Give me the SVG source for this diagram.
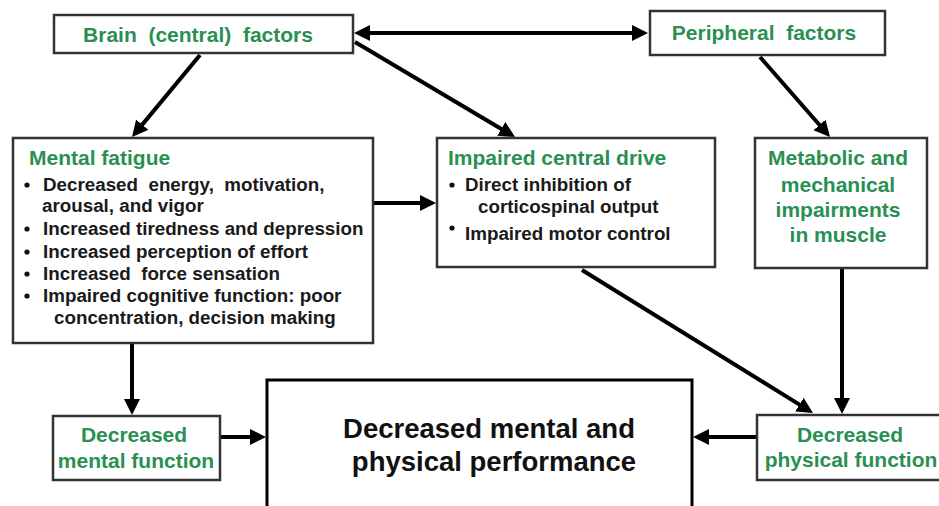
<svg xmlns="http://www.w3.org/2000/svg" width="939" height="506" viewBox="0 0 939 506">
<defs>
<marker id="ah" markerUnits="userSpaceOnUse" markerWidth="17" markerHeight="17" refX="12" refY="8" orient="auto-start-reverse" viewBox="0 0 17 17">
<path d="M0,0 L16,8 L0,16 z" fill="#000"/>
</marker>
<style>
.box{fill:#fff;stroke:#333;stroke-width:2.5}
.big{fill:#fff;stroke:#000;stroke-width:3}
.t{font-family:"Liberation Sans",Arial,sans-serif;font-weight:bold;font-size:21px;fill:#2a8f52;white-space:pre}
.b{font-family:"Liberation Sans",Arial,sans-serif;font-weight:bold;font-size:18.8px;fill:#1a1a1a;white-space:pre}
.h{font-family:"Liberation Sans",Arial,sans-serif;font-weight:bold;font-size:27.5px;fill:#111}
.c{fill:none;stroke:#000;stroke-width:4;marker-end:url(#ah)}
</style>
</defs>
<rect width="939" height="506" fill="#fff"/>
<g id="connectors">
<line class="c" x1="358" y1="33" x2="644" y2="33" style="marker-start:url(#ah)"/>
<line class="c" x1="200" y1="55" x2="134.6" y2="133.9"/>
<line class="c" x1="355" y1="42" x2="511.6" y2="135"/>
<line class="c" x1="760" y1="57" x2="827.4" y2="134"/>
<line class="c" x1="373" y1="203" x2="432" y2="203"/>
<line class="c" x1="582" y1="270" x2="809.6" y2="410.9"/>
<line class="c" x1="842" y1="268" x2="842" y2="410"/>
<line class="c" x1="132" y1="343" x2="132" y2="411"/>
<line class="c" x1="220" y1="437" x2="262" y2="437"/>
<line class="c" x1="757" y1="437" x2="697" y2="437"/>
</g>
<g id="brain">
<rect class="box" x="54" y="15" width="299" height="38"/>
<text class="t" x="198" y="42" text-anchor="middle">Brain  (central)  factors</text>
</g>
<g id="peripheral">
<rect class="box" x="650" y="11" width="235" height="44"/>
<text class="t" x="764" y="40" text-anchor="middle">Peripheral  factors</text>
</g>
<g id="mental-fatigue">
<rect class="box" x="13" y="138" width="360" height="205"/>
<text class="t" x="29" y="165">Mental fatigue</text>
<circle cx="27" cy="185" r="2.6" fill="#111"/>
<text class="b" x="43" y="191">Decreased  energy,  motivation,</text>
<text class="b" x="42" y="212">arousal, and vigor</text>
<circle cx="27" cy="229" r="2.6" fill="#111"/>
<text class="b" x="43" y="235">Increased tiredness and depression</text>
<circle cx="27" cy="252" r="2.6" fill="#111"/>
<text class="b" x="43" y="258">Increased perception of effort</text>
<circle cx="27" cy="274" r="2.6" fill="#111"/>
<text class="b" x="43" y="280">Increased  force sensation</text>
<circle cx="27" cy="296" r="2.6" fill="#111"/>
<text class="b" x="43" y="302">Impaired cognitive function: poor</text>
<text class="b" x="54" y="324">concentration, decision making</text>
</g>
<g id="impaired-central-drive">
<rect class="box" x="437" y="138" width="278" height="129"/>
<text class="t" x="448" y="165">Impaired central drive</text>
<circle cx="452" cy="185" r="2.6" fill="#111"/>
<text class="b" x="465" y="191">Direct inhibition of</text>
<text class="b" x="478" y="213">corticospinal output</text>
<circle cx="452" cy="228" r="2.6" fill="#111"/>
<text class="b" x="465" y="240">Impaired motor control</text>
</g>
<g id="metabolic">
<rect class="box" x="755" y="138" width="172" height="130"/>
<text class="t" x="838" y="165" text-anchor="middle">Metabolic and</text>
<text class="t" x="838" y="192" text-anchor="middle">mechanical</text>
<text class="t" x="838" y="217" text-anchor="middle">impairments</text>
<text class="t" x="838" y="242" text-anchor="middle">in muscle</text>
</g>
<g id="decreased-mental">
<rect class="box" x="53" y="416" width="167" height="64"/>
<text class="t" x="134" y="442" text-anchor="middle">Decreased</text>
<text class="t" x="136" y="468" text-anchor="middle">mental function</text>
</g>
<g id="performance">
<rect class="big" x="267" y="380" width="425" height="150"/>
<text class="h" x="489" y="438" text-anchor="middle">Decreased mental and</text>
<text class="h" x="494" y="471" text-anchor="middle">physical performance</text>
</g>
<g id="decreased-physical">
<rect class="box" x="757" y="415" width="200" height="65"/>
<text class="t" x="850" y="442" text-anchor="middle">Decreased</text>
<text class="t" x="851" y="467" text-anchor="middle">physical function</text>
</g>
</svg>
